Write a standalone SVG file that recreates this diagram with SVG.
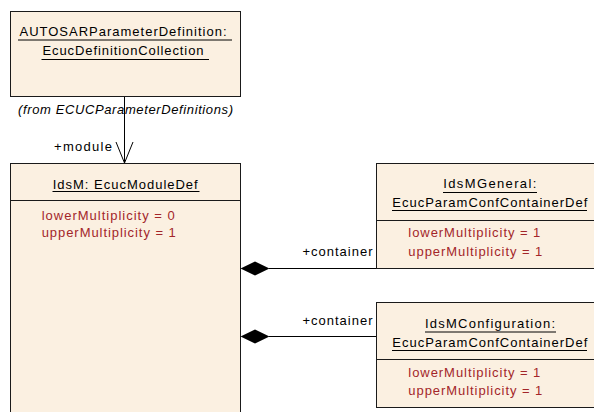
<svg xmlns="http://www.w3.org/2000/svg" width="594" height="412" viewBox="0 0 594 412">
<style>
.box{fill:#FBF0E1;stroke:#1a1a1a;stroke-width:1}
.sep{stroke:#1a1a1a;stroke-width:1}
.ul{stroke:#000;stroke-width:1}
.t{font-family:"Liberation Sans",Arial,sans-serif;font-size:13px;fill:#000}
.a{font-family:"Liberation Sans",Arial,sans-serif;font-size:13px;fill:#A3262A}
.it{font-family:"Liberation Sans",Arial,sans-serif;font-size:13px;font-style:italic;fill:#000}
.ln{stroke:#000;stroke-width:1;fill:none}
</style>
<rect width="594" height="412" fill="#fff"/>
<g id="connectors">
<line class="ln" x1="124.5" y1="96" x2="124.5" y2="163"/>
<polyline class="ln" points="116,142 124.5,163 133,142"/>
<text class="t" x="54" y="151" textLength="58" lengthAdjust="spacing">+module</text>
<line class="ln" x1="269" y1="268.5" x2="376.5" y2="268.5"/>
<polygon points="240.5,268.5 255,261.5 269.5,268.5 255,275.5" fill="#000"/>
<text class="t" x="302.5" y="256" textLength="70" lengthAdjust="spacing">+container</text>
<line class="ln" x1="269" y1="336.5" x2="376.5" y2="336.5"/>
<polygon points="240.5,336.5 255,329.5 269.5,336.5 255,343.5" fill="#000"/>
<text class="t" x="302.5" y="325" textLength="70" lengthAdjust="spacing">+container</text>
</g>
<g id="autosar">
<rect class="box" x="10.5" y="11.5" width="230" height="85"/>
<text class="t" x="19.5" y="35.5" textLength="207" lengthAdjust="spacing">AUTOSARParameterDefinition:</text>
<line class="ul" x1="18" y1="40" x2="232" y2="40"/>
<text class="t" x="42.5" y="55" textLength="161" lengthAdjust="spacing">EcucDefinitionCollection</text>
<line class="ul" x1="41.5" y1="59.5" x2="209" y2="59.5"/>
<text class="it" x="18" y="114" textLength="215" lengthAdjust="spacing">(from ECUCParameterDefinitions)</text>
</g>
<g id="idsm">
<rect class="box" x="10.5" y="163.5" width="230" height="260"/>
<line class="sep" x1="10.5" y1="200.5" x2="240.5" y2="200.5"/>
<text class="t" x="52.7" y="188.5" textLength="145" lengthAdjust="spacing">IdsM: EcucModuleDef</text>
<line class="ul" x1="52.5" y1="191.5" x2="199.5" y2="191.5"/>
<text class="a" x="41.7" y="219.5" textLength="133" lengthAdjust="spacing">lowerMultiplicity = 0</text>
<text class="a" x="41.7" y="237" textLength="134" lengthAdjust="spacing">upperMultiplicity = 1</text>
</g>
<g id="general">
<rect class="box" x="376.5" y="163.5" width="230" height="105"/>
<line class="sep" x1="376.5" y1="220.5" x2="606.5" y2="220.5"/>
<text class="t" x="443.3" y="188" textLength="93" lengthAdjust="spacing">IdsMGeneral:</text>
<line class="ul" x1="443" y1="192.5" x2="537" y2="192.5"/>
<text class="t" x="392.3" y="207" textLength="195" lengthAdjust="spacing">EcucParamConfContainerDef</text>
<line class="ul" x1="392" y1="210.5" x2="587" y2="210.5"/>
<text class="a" x="408.3" y="237" textLength="132" lengthAdjust="spacing">lowerMultiplicity = 1</text>
<text class="a" x="408.3" y="256" textLength="134" lengthAdjust="spacing">upperMultiplicity = 1</text>
</g>
<g id="configuration">
<rect class="box" x="376.5" y="302.5" width="230" height="105"/>
<line class="sep" x1="376.5" y1="359.5" x2="606.5" y2="359.5"/>
<text class="t" x="425" y="328" textLength="130" lengthAdjust="spacing">IdsMConfiguration:</text>
<line class="ul" x1="425" y1="332" x2="556" y2="332"/>
<text class="t" x="392.3" y="347" textLength="195" lengthAdjust="spacing">EcucParamConfContainerDef</text>
<line class="ul" x1="392" y1="350.5" x2="587" y2="350.5"/>
<text class="a" x="408.3" y="376.5" textLength="132" lengthAdjust="spacing">lowerMultiplicity = 1</text>
<text class="a" x="408.3" y="395" textLength="134" lengthAdjust="spacing">upperMultiplicity = 1</text>
</g>
</svg>
